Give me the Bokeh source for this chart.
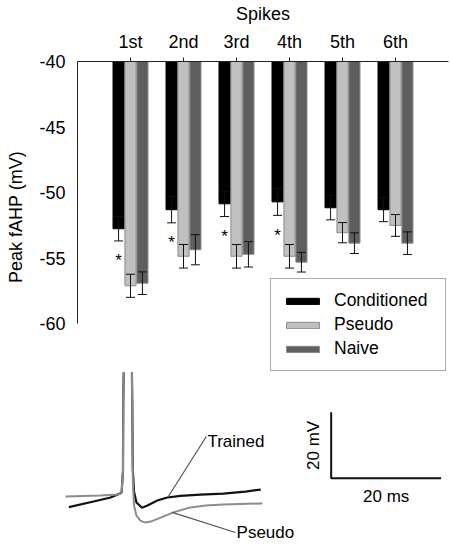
from bokeh.plotting import figure
from bokeh.models import (Range1d, FixedTicker, ColumnDataSource, Whisker, TeeHead,
                          Legend, LegendItem)
from bokeh.layouts import column
from bokeh.embed import file_html
from bokeh.resources import INLINE
from bokeh.core.properties import value

FONT = "Liberation Sans"

# ---------------- data: bar chart ----------------
spikes = ["1st", "2nd", "3rd", "4th", "5th", "6th"]
groups = ["Conditioned", "Pseudo", "Naive"]
conditioned = [-52.75, -51.3, -50.85, -50.7, -51.15, -51.3]
conditioned_se = [0.93, 1.0, 0.97, 1.03, 0.92, 0.91]
pseudo = [-57.1, -54.85, -54.85, -54.85, -53.05, -52.5]
pseudo_se = [0.88, 0.9, 0.9, 0.9, 0.77, 0.83]
naive = [-56.9, -54.35, -54.7, -55.3, -53.85, -53.85]
naive_se = [0.86, 1.15, 0.97, 0.75, 0.79, 0.86]
significant = [True, True, True, True, False, False]
y_ticks = [-60, -55, -50, -45, -40]

# ---------------- data: example traces (ms, mV) ----------------
trained_t = [0.6, 5.1, 8.2, 10.0, 10.2, 10.45, 10.5, 10.7, 11.3, 12.0, 12.13, 12.24,
             12.45, 12.9, 13.9, 14.9, 16.7, 18.5, 20.9, 24.5, 28.7, 32.7, 35.5]
trained_mv = [-63.2, -61.5, -60.3, -59.0, -58.8, -52.1, -31.0, -9.7, 5.0, -9.7, -31.0, -52.0,
              -58.5, -61.8, -63.4, -62.7, -61.2, -60.3, -59.8, -59.4, -59.1, -58.5, -57.9]
pseudo_t = [0.0, 6.4, 9.6, 10.2, 10.45, 10.5, 10.7, 11.3, 12.0, 12.13, 12.24, 12.45,
            12.9, 13.6, 14.5, 15.5, 17.3, 19.6, 22.7, 25.5, 28.7, 35.8]
pseudo_mv = [-60.0, -59.7, -59.4, -58.8, -52.1, -31.0, -9.7, 5.0, -9.7, -31.0, -55.2, -62.7,
             -65.8, -67.3, -67.9, -67.6, -66.4, -64.8, -63.3, -62.7, -62.4, -62.1]
scalebar_ms = 20
scalebar_mv = 20


def no_align(fig):
    if "frame_align" in fig.properties():
        fig.frame_align = False


# ---------------- top figure: bar chart ----------------
p = figure(width=452, height=372, x_range=Range1d(0, 7.0), y_range=Range1d(-63.71, -40),
           x_axis_location="above", toolbar_location=None, output_backend="svg",
           min_border_left=77, min_border_top=61, min_border_right=4, min_border_bottom=0)
no_align(p)
p.outline_line_color = None
p.grid.visible = False
p.background_fill_color = "white"
p.border_fill_color = "white"

offsets = [-0.225, 0.0, 0.225]
bar_w = 0.21
series = [conditioned, pseudo, naive]
ses = [conditioned_se, pseudo_se, naive_se]
fills = ["#000000", "#c0c0c0", "#5e5e5e"]
lines = ["#000000", "#8a8a8a", "#8a8a8a"]

renderers = []
for k in range(3):
    xs = [i + 1 + offsets[k] for i in range(len(spikes))]
    src = ColumnDataSource(dict(
        x=xs, bottom=series[k], top=[-40] * len(spikes),
        upper=[v + s for v, s in zip(series[k], ses[k])],
        lower=[v - s for v, s in zip(series[k], ses[k])]))
    r = p.vbar(x="x", width=bar_w, top="top", bottom="bottom", source=src,
               fill_color=fills[k], line_color=lines[k], line_width=1)
    renderers.append(r)
    w = Whisker(source=src, base="x", upper="upper", lower="lower", dimension="height",
                line_color="#111111", line_width=1, level="annotation",
                upper_head=TeeHead(size=9, line_color="#111111", line_width=1),
                lower_head=TeeHead(size=9, line_color="#111111", line_width=1))
    p.add_layout(w)

# asterisks below the conditioned error bar of significant spikes
star_x = [i + 1 + offsets[0] for i in range(len(spikes)) if significant[i]]
star_y = [conditioned[i] - conditioned_se[i] for i in range(len(spikes)) if significant[i]]
p.text(x=star_x, y=star_y, text=["*"] * len(star_x), text_font=value(FONT),
       text_font_size="17px", text_align="center", text_baseline="middle",
       y_offset=20, text_color="black")

# axes
xa = p.xaxis[0]
xa.ticker = FixedTicker(ticks=[i + 1 for i in range(len(spikes))])
xa.major_label_overrides = {i + 1: s for i, s in enumerate(spikes)}
xa.axis_label = "Spikes"
xa.axis_label_text_font = FONT
xa.axis_label_text_font_size = "18px"
xa.axis_label_text_font_style = "normal"
xa.axis_label_text_color = "black"
xa.axis_label_standoff = 5
xa.major_label_text_font = FONT
xa.major_label_text_font_size = "18px"
xa.major_label_text_color = "black"
xa.major_label_standoff = 6
xa.major_tick_in = 0
xa.major_tick_out = 4
xa.minor_tick_out = 0
xa.minor_tick_in = 0
xa.axis_line_color = "#222222"
xa.major_tick_line_color = "#222222"

ya = p.yaxis[0]
ya.ticker = FixedTicker(ticks=y_ticks)
ya.major_label_overrides = {t: str(t) for t in y_ticks}
ya.bounds = (-60, -40)
ya.axis_label = "Peak fAHP (mV)"
ya.axis_label_text_font = FONT
ya.axis_label_text_font_size = "18px"
ya.axis_label_text_font_style = "normal"
ya.axis_label_text_color = "black"
ya.axis_label_standoff = 10
ya.major_label_text_font = FONT
ya.major_label_text_font_size = "18px"
ya.major_label_text_color = "black"
ya.major_label_standoff = 12
ya.major_tick_in = 0
ya.major_tick_out = 0
ya.minor_tick_in = 0
ya.minor_tick_out = 0
ya.axis_line_color = "#222222"

legend = Legend(items=[LegendItem(label=g, renderers=[r]) for g, r in zip(groups, renderers)],
                location=(193, 1), orientation="vertical")
legend.label_text_font = FONT
legend.label_text_font_size = "17.5px"
legend.label_text_color = "black"
legend.glyph_width = 41
legend.glyph_height = 8
legend.label_standoff = 11
legend.padding = 11
legend.spacing = 3
legend.label_height = 20
legend.label_width = 100
legend.margin = 0
legend.border_line_color = "#555555"
legend.border_line_width = 1
legend.background_fill_color = "white"
legend.background_fill_alpha = 1
p.add_layout(legend)

# ---------------- bottom figure: traces ----------------
p2 = figure(width=452, height=175, x_range=Range1d(-11.82, 70.36), y_range=Range1d(-75.45, -22.42),
            x_axis_type=None, y_axis_type=None, toolbar_location=None, output_backend="svg",
            min_border_left=0, min_border_right=0, min_border_top=0, min_border_bottom=0)
no_align(p2)
p2.outline_line_color = None
p2.grid.visible = False
p2.background_fill_color = "white"
p2.border_fill_color = "white"

p2.line(trained_t, trained_mv, line_color="#111111", line_width=2.2)
p2.line(pseudo_t, pseudo_mv, line_color="#8c8c8c", line_width=2)

# label pointers
p2.segment(x0=[25.6, 19.4], y0=[-41.8, -64.8], x1=[18.7, 30.9], y1=[-60.0, -70.9],
           line_color="#555555", line_width=1.2)
p2.text(x=[25.8], y=[-43.3], text=["Trained"], text_font=value(FONT), text_font_size="17px",
        text_align="left", text_baseline="middle", text_color="black")
p2.text(x=[31.1], y=[-70.9], text=["Pseudo"], text_font=value(FONT), text_font_size="17px",
        text_align="left", text_baseline="middle", text_color="black")

# scale bar
sb_x0, sb_y0 = 48.3, -54.5
p2.line([sb_x0, sb_x0, sb_x0 + scalebar_ms], [sb_y0 + scalebar_mv, sb_y0, sb_y0],
        line_color="#111111", line_width=2)
p2.text(x=[sb_x0 - 3.2], y=[sb_y0 + scalebar_mv / 2], text=[f"{scalebar_mv} mV"],
        text_font=value(FONT), text_font_size="17px", text_align="center",
        text_baseline="middle", angle=1.5708, text_color="black")
p2.text(x=[sb_x0 + scalebar_ms / 2], y=[sb_y0 - 5.5], text=[f"{scalebar_ms} ms"],
        text_font=value(FONT), text_font_size="17px", text_align="center",
        text_baseline="middle", text_color="black")

layout = column(p, p2, spacing=0)
open("out.html", "w").write(file_html(layout, INLINE))
